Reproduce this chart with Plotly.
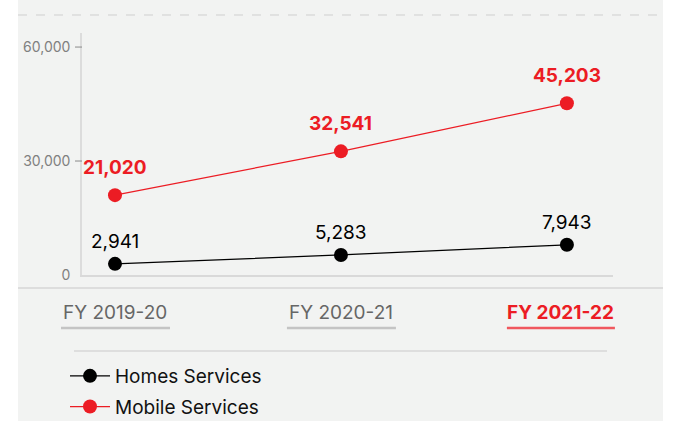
import plotly.graph_objects as go

# Revenue by fiscal year
years = ["FY 2019-20", "FY 2020-21", "FY 2021-22"]
homes = [2941, 5283, 7943]
mobile = [21020, 32541, 45203]
y_ticks = [0, 30000, 60000]
series_names = ["Homes Services", "Mobile Services"]

RED = "#ec1c24"
BLACK = "#000000"
PANEL = "#f2f3f2"
FONT = "Inter"

W, H = 675, 421
L, R, T, B = 82, 62, 33, 146
plot_w = W - L - R
plot_h = H - T - B
X_RANGE = [-0.146, 2.204]

fig = go.Figure()

for name, vals, col in [(series_names[0], homes, BLACK), (series_names[1], mobile, RED)]:
    fig.add_trace(go.Scatter(
        x=years, y=vals, name=name, legendgroup=name, mode="lines+markers",
        line=dict(color=col, width=1.3),
        marker=dict(color=col, size=14),
        hoverinfo="skip",
    ))

# value labels above each point
for vals, col, bold, shift in [(homes, BLACK, False, 22), (mobile, RED, True, 28)]:
    for yr, v in zip(years, vals):
        txt = f"{v:,}"
        fig.add_annotation(
            x=yr, y=v, text=f"<b>{txt}</b>" if bold else txt,
            showarrow=False, yshift=shift, xanchor="center", yanchor="middle",
            font=dict(family=FONT, size=19, color=col),
        )

def px_x(px):
    return (px - L) / plot_w

def px_y(py):
    return (T + plot_h - py) / plot_h

def cat_paper(i):
    # category index -> paper fraction along the x domain
    return (i - X_RANGE[0]) / (X_RANGE[1] - X_RANGE[0])

# category labels with underline, last year highlighted
for i, yr in enumerate(years):
    last = i == len(years) - 1
    fig.add_annotation(
        x=yr, y=px_y(312), xref="x", yref="paper",
        text=f"<b>{yr}</b>" if last else yr, showarrow=False,
        xshift=-6 if last else 0, yanchor="middle",
        font=dict(family=FONT, size=19, color=RED if last else "#666666"),
    )
    fig.add_shape(
        type="line", xref="paper", yref="paper", xsizemode="pixel", xanchor=cat_paper(i),
        x0=-60 if last else -54, x1=48 if last else 55, y0=px_y(328), y1=px_y(328),
        line=dict(color="#f0575e" if last else "#c4c4c4", width=2.5),
    )

# y tick marks (none at zero)
for tv in y_ticks[1:]:
    fig.add_shape(type="line", xref="paper", yref="y", x0=-7 / plot_w, x1=0,
                  y0=tv, y1=tv, line=dict(color="#8a8a8a", width=1))

# panel background and rules
fig.add_shape(type="rect", xref="paper", yref="paper", x0=px_x(18), x1=px_x(663),
              y0=px_y(H + 5), y1=px_y(-5), fillcolor=PANEL, line_width=0, layer="below")
fig.add_shape(type="line", xref="paper", yref="paper", x0=px_x(18), x1=px_x(663),
              y0=px_y(15), y1=px_y(15), line=dict(color="#cfcfcf", width=1, dash="dash"))
fig.add_shape(type="line", xref="paper", yref="paper", x0=px_x(18), x1=px_x(663),
              y0=px_y(288), y1=px_y(288), line=dict(color="#d6d6d6", width=1.5))
fig.add_shape(type="line", xref="paper", yref="paper", x0=px_x(74), x1=px_x(607),
              y0=px_y(351), y1=px_y(351), line=dict(color="#dedede", width=2))

fig.update_layout(
    width=W, height=H,
    margin=dict(l=L, r=R, t=T, b=B, autoexpand=False),
    paper_bgcolor="white", plot_bgcolor="rgba(0,0,0,0)",
    font=dict(family=FONT),
    showlegend=True,
    legend=dict(
        x=px_x(65), y=px_y(357), xanchor="left", yanchor="top",
        bgcolor="rgba(0,0,0,0)", font=dict(family=FONT, size=19, color="#111111"),
        itemwidth=40, tracegroupgap=3, traceorder="grouped",
    ),
    xaxis=dict(
        type="category", range=X_RANGE, showticklabels=False,
        showgrid=False, zeroline=False, showline=True, linecolor="#d9d9d9", linewidth=1.5,
        ticks="",
    ),
    yaxis=dict(
        range=[0, 63700], tickvals=y_ticks, tickformat=",d",
        showgrid=False, zeroline=False, showline=True, linecolor="#dcdcdc", linewidth=1.5,
        ticks="outside", ticklen=7, tickcolor="rgba(0,0,0,0)",
        tickfont=dict(family=FONT, size=14, color="#808080"),
    ),
)

fig.write_html("out.html")
